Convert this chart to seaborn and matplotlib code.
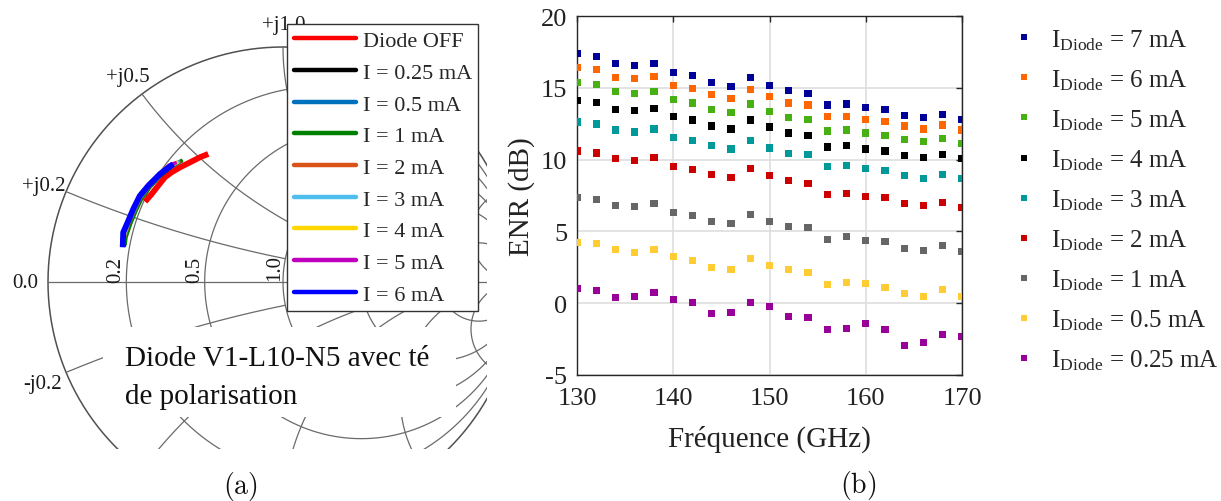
import numpy as np
import pandas as pd
import matplotlib
matplotlib.use("Agg")
import matplotlib.pyplot as plt
import seaborn as sns
from matplotlib.lines import Line2D
from matplotlib.patches import Rectangle

# ---------------- data: ENR (right panel) ----------------
freq_ghz = [130, 132, 134, 136, 138, 140, 142, 144, 146, 148, 150,
            152, 154, 156, 158, 160, 162, 164, 166, 168, 170]
enr_7mA = [17.41, 17.20, 16.71, 16.57, 16.71, 16.09, 15.88, 15.39, 15.12, 15.74, 15.19,
           14.84, 14.63, 13.80, 13.87, 13.66, 13.52, 13.10, 12.96, 13.17, 12.82]
enr_6mA = [16.43, 16.30, 15.74, 15.67, 15.81, 15.19, 14.98, 14.56, 14.28, 14.91, 14.42,
           13.94, 13.80, 13.03, 13.03, 12.82, 12.68, 12.34, 12.13, 12.41, 12.06]
enr_5mA = [15.39, 15.25, 14.77, 14.63, 14.77, 14.21, 13.94, 13.52, 13.31, 13.87, 13.38,
           12.96, 12.82, 11.99, 12.06, 11.85, 11.71, 11.37, 11.23, 11.44, 11.09]
enr_4mA = [14.14, 14.00, 13.52, 13.45, 13.59, 13.03, 12.76, 12.34, 12.13, 12.76, 12.27,
           11.85, 11.65, 10.88, 10.95, 10.74, 10.60, 10.26, 10.12, 10.33, 10.05]
enr_3mA = [12.62, 12.48, 12.06, 11.92, 12.13, 11.51, 11.30, 10.95, 10.74, 11.30, 10.81,
           10.40, 10.33, 9.49, 9.56, 9.35, 9.21, 8.87, 8.66, 8.94, 8.66]
enr_2mA = [10.60, 10.46, 10.05, 9.91, 10.12, 9.49, 9.28, 8.94, 8.73, 9.35, 8.87,
           8.52, 8.31, 7.55, 7.62, 7.41, 7.34, 6.92, 6.78, 6.99, 6.65]
enr_1mA = [7.34, 7.20, 6.78, 6.71, 6.92, 6.30, 6.09, 5.67, 5.53, 6.16, 5.67,
           5.32, 5.26, 4.42, 4.63, 4.35, 4.28, 3.80, 3.66, 4.00, 3.59]
enr_05mA = [4.21, 4.14, 3.73, 3.52, 3.73, 3.24, 2.97, 2.48, 2.34, 3.10, 2.62,
            2.34, 2.13, 1.30, 1.44, 1.37, 1.09, 0.67, 0.47, 0.95, 0.47]
enr_025mA = [1.02, 0.88, 0.40, 0.47, 0.74, 0.26, 0.05, -0.72, -0.65, 0.05, -0.23,
             -0.93, -0.99, -1.83, -1.76, -1.41, -1.83, -2.94, -2.73, -2.17, -2.31]

enr_labels = ["7 mA", "6 mA", "5 mA", "4 mA", "3 mA", "2 mA", "1 mA", "0.5 mA", "0.25 mA"]
enr_series = [enr_7mA, enr_6mA, enr_5mA, enr_4mA, enr_3mA, enr_2mA, enr_1mA, enr_05mA, enr_025mA]
enr_colors = ["#000099", "#FF6600", "#47B012", "#000000", "#009999",
              "#CC0000", "#666666", "#FFCC33", "#990099"]

yticks_enr = [-5, 0, 5, 10, 15, 20]
xticks_freq = [130, 140, 150, 160, 170]

# ---------------- data: reflection coefficient (left panel) ----------------
smith_labels = ["Diode OFF", "I = 0.25 mA", "I = 0.5 mA", "I = 1 mA", "I = 2 mA",
                "I = 3 mA", "I = 4 mA", "I = 5 mA", "I = 6 mA"]
smith_colors = ["#FF0000", "#000000", "#0072BD", "#008000", "#D95319",
                "#4DBEEE", "#FFD700", "#BF00BF", "#0000FF"]
g_off_re = [-0.318, -0.353, -0.396, -0.438, -0.474, -0.502, -0.531, -0.559, -0.587]
g_off_im = [0.545, 0.531, 0.509, 0.488, 0.467, 0.446, 0.410, 0.374, 0.342]
g_025_re = [-0.430, -0.475, -0.525, -0.568, -0.603, -0.629, -0.650, -0.671, -0.675]
g_025_im = [0.516, 0.490, 0.449, 0.402, 0.356, 0.300, 0.250, 0.189, 0.152]
g_05_re = [-0.433, -0.477, -0.526, -0.569, -0.604, -0.630, -0.652, -0.673, -0.677]
g_05_im = [0.515, 0.491, 0.450, 0.403, 0.357, 0.301, 0.250, 0.190, 0.150]
g_1_re = [-0.427, -0.472, -0.523, -0.566, -0.600, -0.626, -0.647, -0.668, -0.672]
g_1_im = [0.519, 0.494, 0.451, 0.404, 0.357, 0.302, 0.251, 0.191, 0.157]
g_2_re = [-0.437, -0.478, -0.527, -0.570, -0.606, -0.632, -0.655, -0.675, -0.679]
g_2_im = [0.514, 0.493, 0.452, 0.405, 0.359, 0.303, 0.252, 0.190, 0.149]
g_3_re = [-0.441, -0.480, -0.528, -0.571, -0.607, -0.634, -0.657, -0.677, -0.681]
g_3_im = [0.512, 0.494, 0.453, 0.406, 0.360, 0.304, 0.253, 0.191, 0.148]
g_4_re = [-0.446, -0.482, -0.529, -0.572, -0.608, -0.635, -0.658, -0.679, -0.684]
g_4_im = [0.511, 0.495, 0.455, 0.407, 0.362, 0.306, 0.255, 0.193, 0.160]
g_5_re = [-0.452, -0.485, -0.530, -0.573, -0.609, -0.636, -0.659, -0.681, -0.686]
g_5_im = [0.509, 0.497, 0.457, 0.408, 0.364, 0.308, 0.257, 0.195, 0.165]
g_6_re = [-0.467, -0.523, -0.573, -0.609, -0.637, -0.658, -0.680, -0.682]
g_6_im = [0.502, 0.460, 0.410, 0.367, 0.311, 0.261, 0.211, 0.148]
smith_re = [g_off_re, g_025_re, g_05_re, g_1_re, g_2_re, g_3_re, g_4_re, g_5_re, g_6_re]
smith_im = [g_off_im, g_025_im, g_05_im, g_1_im, g_2_im, g_3_im, g_4_im, g_5_im, g_6_im]

# grid circles (resistance) and arcs (reactance) with the resistance up to which each arc is drawn
r_grid = [0.2, 0.5, 1.0, 2.0, 5.0]
x_grid = [0.2, 0.5, 1.0, 2.0, 5.0]
x_grid_rmax = [1.0, 2.0, 5.0, 5.0, 1e9]

# ---------------- style ----------------
sns.set_theme(style="white")
plt.rcParams["font.family"] = ["Liberation Serif", "DejaVu Serif"]
plt.rcParams["mathtext.fontset"] = "custom"
plt.rcParams["mathtext.rm"] = "Liberation Serif"
plt.rcParams["mathtext.it"] = "Liberation Serif:italic"
plt.rcParams["axes.unicode_minus"] = False

W, H = 1221, 502
fig = plt.figure(figsize=(W / 100, H / 100), dpi=100)

# ================= left: Smith chart =================
CX, CY, RAD = 283.0, 283.0, 235.0


def px2g(px, py):
    return (px - CX) / RAD, (CY - py) / RAD


axL = fig.add_axes([0, (H - 450) / H, 487 / W, 450 / H])
x0, _ = px2g(0, 0)
x1, _ = px2g(487, 0)
_, y0 = px2g(0, 450)
_, y1 = px2g(0, 0)
axL.set_xlim(x0, x1)
axL.set_ylim(y0, y1)
axL.axis("off")

gcol = "#6a6a6a"
t = np.linspace(0, 2 * np.pi, 721)
axL.plot(np.cos(t), np.sin(t), color="#505050", lw=1.1, zorder=1)
axL.plot([-1, 1], [0, 0], color=gcol, lw=0.9, zorder=1)
for r in r_grid:
    c, rr = r / (1 + r), 1 / (1 + r)
    axL.plot(c + rr * np.cos(t), rr * np.sin(t), color=gcol, lw=0.9, zorder=1)
for xa, rmax in zip(x_grid, x_grid_rmax):
    for xv in (xa, -xa):
        rr_ = np.concatenate([np.linspace(0, 1, 400), np.geomspace(1, min(rmax, 1e4), 1200)])
        rr_ = rr_[rr_ <= rmax]
        z = rr_ + 1j * xv
        g = (z - 1) / (z + 1)
        axL.plot(g.real, g.imag, color=gcol, lw=0.9, zorder=1)

lab_fs = 15
for txt, (px, py) in [("0.0", (25, 284)), ("+j0.2", (44, 186)), ("+j0.5", (128, 77)),
                      ("+j1.0", (284, 25)), ("-j0.2", (43, 385))]:
    gx, gy = px2g(px, py)
    axL.text(gx, gy, txt, fontsize=lab_fs, ha="center", va="center", color="#1a1a1a", zorder=2)
for txt, (px, py) in [("0.2", (116, 270)), ("0.5", (195, 270)), ("1.0", (275, 268))]:
    gx, gy = px2g(px, py)
    axL.text(gx, gy, txt, fontsize=lab_fs, ha="center", va="center", rotation=90,
             color="#1a1a1a", zorder=2)

rows = []
for lab, re_, im_ in zip(smith_labels, smith_re, smith_im):
    for k, (a, b) in enumerate(zip(re_, im_)):
        rows.append({"state": lab, "k": k, "re": a, "im": b})
df_s = pd.DataFrame(rows)
for lab, col in zip(smith_labels, smith_colors):
    sub = df_s[df_s["state"] == lab]
    lw = 4.2 if lab in ("I = 6 mA", "Diode OFF") else 2.5
    sns.lineplot(data=sub, x="re", y="im", sort=False, estimator=None, color=col,
                 lw=lw, ax=axL, label=lab, zorder=3, solid_capstyle="butt")
axL.set_xlabel("")
axL.set_ylabel("")

# white text box
bx0, by0 = px2g(103, 418)
bx1, by1 = px2g(456, 328)
axL.add_patch(Rectangle((bx0, by0), bx1 - bx0, by1 - by0, facecolor="white",
                        edgecolor="none", zorder=5))
for txt, (px, py) in [("Diode V1-L10-N5 avec té", (125, 366)), ("de polarisation", (125, 404))]:
    gx, gy = px2g(px, py)
    axL.text(gx, gy, txt, fontsize=21, ha="left", va="baseline", color="#111111", zorder=6)

handlesL = [Line2D([], [], color=c, lw=3.2) for c in smith_colors]
legL = axL.legend(handlesL, smith_labels, loc="upper left",
                  bbox_to_anchor=(287 / W, 1 - 25 / H), bbox_transform=fig.transFigure,
                  fontsize=16, frameon=True, fancybox=False, borderpad=0.3,
                  borderaxespad=0, handlelength=2.8, handletextpad=0.3, labelspacing=0.5)
legL.get_frame().set_edgecolor("#333333")
legL.get_frame().set_linewidth(1.0)
legL.get_frame().set_alpha(1)
legL.set_zorder(10)

fig.text(240 / W, 1 - 487 / H, r"$\mathrm{(a)}$", fontsize=20, ha="center", va="center",
         math_fontfamily="cm", color="#111111")

# ================= right: ENR scatter =================
axR = fig.add_axes([577 / W, (H - 376) / H, 385 / W, 359 / H])
rows = []
for lab, vals in zip(enr_labels, enr_series):
    for f, v in zip(freq_ghz, vals):
        rows.append({"freq": f, "enr": v, "I": lab})
df_e = pd.DataFrame(rows)
sns.scatterplot(data=df_e, x="freq", y="enr", hue="I", hue_order=enr_labels,
                palette=enr_colors, marker="s", s=26, edgecolor="none", linewidth=0,
                ax=axR, legend=False, zorder=3)
axR.set_xlim(130, 170)
axR.set_ylim(-5, 20)
axR.set_xticks(xticks_freq)
axR.set_yticks(yticks_enr)
axR.grid(True, color="#dedede", lw=1.2, zorder=0)
axR.set_axisbelow(True)
for s in axR.spines.values():
    s.set_color("#262626")
    s.set_linewidth(1.0)
axR.tick_params(direction="in", length=4, width=1, color="#262626", labelsize=19,
                top=True, right=True, labelcolor="#222222")
axR.tick_params(axis="y", pad=7)
axR.tick_params(axis="x", pad=9)
axR.set_xlabel("Fréquence (GHz)", fontsize=21, color="#222222", labelpad=11)
axR.set_ylabel("ENR (dB)", fontsize=21, color="#222222")
axR.yaxis.set_label_coords(-0.108, 0.5)

handlesR = [Line2D([], [], ls="none", marker="s", markersize=4.8, color=c, markeredgewidth=0)
            for c in enr_colors]
labelsR = [r"$\mathrm{I_{Diode}}$ = " + l for l in enr_labels]
axR.legend(handlesR, labelsR, loc="upper left", bbox_to_anchor=(1012 / W, 1 - 28 / H),
           bbox_transform=fig.transFigure, fontsize=18, frameon=False, borderpad=0,
           borderaxespad=0, handlelength=0.95, handletextpad=0.62, labelspacing=0.62)

fig.text(858 / W, 1 - 486 / H, r"$\mathrm{(b)}$", fontsize=20, ha="center", va="center",
         math_fontfamily="cm", color="#111111")

fig.savefig("out.png", dpi=100)
